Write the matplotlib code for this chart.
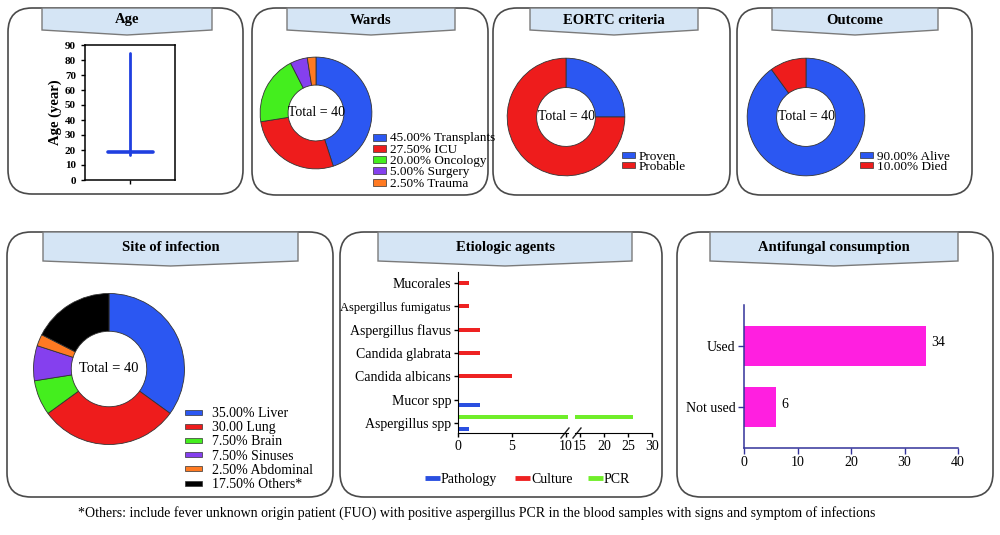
import matplotlib
matplotlib.use('Agg')
import matplotlib.pyplot as plt
import numpy as np
from matplotlib.patches import FancyBboxPatch, Polygon, Rectangle

plt.rcParams['font.family'] = ['Liberation Serif', 'DejaVu Serif']

# ---- data ----
n_total = 40

age_low, age_mid, age_high = 17, 18.5, 85

ward_counts = [18, 11, 8, 2, 1]
ward_labels = ['45.00% Transplants', '27.50% ICU', '20.00% Oncology', '5.00% Surgery', '2.50% Trauma']

eortc_counts = [10, 30]
eortc_labels = ['Proven', 'Probable']

outcome_counts = [36, 4]
outcome_labels = ['90.00% Alive', '10.00% Died']

site_counts = [14, 12, 3, 3, 1, 7]
site_labels = ['35.00% Liver', '30.00 Lung', '7.50% Brain', '7.50% Sinuses', '2.50% Abdominal', '17.50% Others*']

agents = ['Aspergillus spp', 'Mucor spp', 'Candida albicans', 'Candida glabrata',
          'Aspergillus flavus', 'Aspergillus fumigatus', 'Mucorales']
pathology = [1, 2, 0, 0, 0, 0, 0]
culture = [0, 0, 5, 2, 2, 1, 1]
pcr = [26, 0, 0, 0, 0, 0, 0]

antifungal = ['Not used', 'Used']
antifungal_n = [6, 34]

footnote = ('*Others: include fever unknown origin patient (FUO) with positive aspergillus PCR '
            'in the blood samples with signs and symptom of infections')

# ---- colours ----
BLUE = '#2b57f2'
RED = '#ee1c1c'
GREEN = '#44ee1e'
PURPLE = '#8540ee'
ORANGE = '#ff7a22'
BLACK = '#000000'
pie5 = [BLUE, RED, GREEN, PURPLE, ORANGE, BLACK]

W, H = 1000, 535
fig = plt.figure(figsize=(10, 5.35), dpi=100)
bg = fig.add_axes([0, 0, 1, 1], zorder=0)
bg.set_xlim(0, W)
bg.set_ylim(H, 0)
bg.axis('off')


def px_axes(x0, y0, x1, y1):
    return fig.add_axes([x0 / W, 1 - y1 / H, (x1 - x0) / W, (y1 - y0) / H], zorder=2)


def panel(x0, y0, x1, y1, hx0, hx1, hbot, tip, title, fs=10.5):
    bg.add_patch(FancyBboxPatch((x0, y0), x1 - x0, y1 - y0,
                                boxstyle='round,pad=0,rounding_size=24',
                                facecolor='white', edgecolor='#4a4a4a', lw=1.2))
    mid = (hx0 + hx1) / 2
    bg.add_patch(Polygon([(hx0, y0), (hx1, y0), (hx1, hbot), (mid, tip), (hx0, hbot)],
                         closed=True, facecolor='#d5e5f5', edgecolor='#7a7a7a', lw=1))
    bg.text(mid, (y0 + hbot) / 2 + 1, title, ha='center', va='center',
            fontsize=fs, fontweight='bold')


def donut(cx, cy, r, values, colors, fs=10):
    ax = px_axes(cx - r - 1, cy - r - 1, cx + r + 1, cy + r + 1)
    ax.pie(values, colors=colors, startangle=90, counterclock=False, radius=1,
           wedgeprops=dict(width=0.5, edgecolor='#333333', linewidth=0.6))
    ax.set_xlim(-1.02, 1.02)
    ax.set_ylim(-1.02, 1.02)
    ax.text(0, 0, f'Total = {n_total}', ha='center', va='center', fontsize=fs)
    return ax


def legend(x, y, dy, colors, labels, fs, hw=13, hh=7, gap=4):
    for i, (c, lab) in enumerate(zip(colors, labels)):
        yy = y + i * dy
        bg.add_patch(Rectangle((x, yy - hh / 2), hw, hh, facecolor=c,
                               edgecolor='#333333', lw=0.5))
        bg.text(x + hw + gap, yy, lab, fontsize=fs, va='center_baseline', ha='left')


# ---- top row ----
panel(8, 8, 243, 194, 42, 212, 30, 35, 'Age')
panel(252, 8, 488, 195, 287, 455, 30, 35, 'Wards')
panel(493, 8, 730, 195, 530, 698, 30, 35, 'EORTC criteria')
panel(737, 8, 972, 195, 772, 938, 30, 35, 'Outcome')

ax0 = px_axes(85, 45, 175, 180)
ax0.plot([1, 1], [age_low, age_high], color='#1f3fe0', lw=2, solid_capstyle='round')
ax0.plot([0.5, 1.5], [age_mid, age_mid], color='#1f3fe0', lw=2.6, solid_capstyle='round')
ax0.set_xlim(0, 2)
ax0.set_ylim(0, 90)
ax0.set_yticks(np.arange(0, 91, 10))
ax0.set_xticks([1])
ax0.set_xticklabels([''])
ax0.tick_params(labelsize=8, length=3, width=1)
for t in ax0.get_yticklabels():
    t.set_fontweight('bold')
ax0.set_ylabel('Age (year)', fontsize=10.5, fontweight='bold', labelpad=2)
for s in ax0.spines.values():
    s.set_linewidth(1.1)

donut(316, 113, 56, ward_counts, pie5[:5])
legend(373, 137, 11.3, pie5[:5], ward_labels, 9.5)

donut(566, 117, 59, eortc_counts, [BLUE, RED])
legend(622, 155, 10, [BLUE, RED], eortc_labels, 9.5, hh=6)

donut(806, 117, 59, outcome_counts, [BLUE, RED])
legend(860, 155, 10, [BLUE, RED], outcome_labels, 9.5, hh=6)

# ---- bottom row ----
panel(7, 232, 333, 497, 43, 298, 261, 266, 'Site of infection')
panel(340, 232, 662, 497, 378, 632, 261, 266, 'Etiologic agents')
panel(677, 232, 993, 497, 710, 958, 261, 266, 'Antifungal consumption')

donut(109, 369, 76, site_counts, pie5, fs=10.5)
legend(185, 412, 14.2, pie5, site_labels, 10, hw=17, hh=5, gap=10)

# etiologic agents, broken x axis
yp = np.arange(len(agents))
bh = 0.17
off = 0.24
ax1 = px_axes(458, 272, 568, 433)
ax2 = px_axes(575, 272, 652, 433)
for ax in (ax1, ax2):
    ax.barh(yp - off, pathology, height=bh, color='#2a4fe0')
    ax.barh(yp, culture, height=bh, color='#ee2222')
    ax.barh(yp + off, pcr, height=bh, color='#70ee2a')
    ax.set_ylim(-0.43, 6.47)
    ax.set_facecolor('none')
    ax.spines['top'].set_visible(False)
    ax.spines['right'].set_visible(False)
    ax.tick_params(labelsize=10, length=3, width=1, pad=2)
ax1.set_xlim(0, 10.2)
ax1.set_xticks([0, 5, 10])
ax1.set_yticks(yp)
ax1.set_yticklabels(agents)
ax1.get_yticklabels()[5].set_fontsize(9)
ax2.set_xlim(14, 30)
ax2.set_xticks([15, 20, 25, 30])
ax2.spines['left'].set_visible(False)
ax2.set_yticks([])
for xb in (565, 577):
    bg.plot([xb - 4, xb + 4], [438, 428], color='#222222', lw=1, zorder=5)

leg_items = [('Pathology', '#2a4fe0', 425), ('Culture', '#ee2222', 515), ('PCR', '#70ee2a', 588)]
for lab, c, lx in leg_items:
    bg.plot([lx, lx + 15], [478, 478], color=c, lw=3.5, solid_capstyle='butt')
    bg.text(lx + 16, 478, lab, fontsize=10, va='center_baseline', ha='left')

# antifungal consumption
ax3 = px_axes(744, 305, 958, 448)
ya = np.arange(len(antifungal))
ax3.barh(ya, antifungal_n, height=0.66, color='#ff1fe0')
for i, v in enumerate(antifungal_n):
    ax3.text(v + 1, i + 0.05, str(v), va='center', ha='left', fontsize=10)
ax3.set_xlim(0, 40)
ax3.set_ylim(-0.67, 1.67)
ax3.set_xticks([0, 10, 20, 30, 40])
ax3.set_yticks(ya)
ax3.set_yticklabels(antifungal)
ax3.spines['top'].set_visible(False)
ax3.spines['right'].set_visible(False)
for s in ('left', 'bottom'):
    ax3.spines[s].set_color('#33339a')
    ax3.spines[s].set_linewidth(1.1)
ax3.tick_params(labelsize=10, length=4, width=1, color='#33339a', pad=2)
ax3.set_facecolor('none')

bg.text(477, 513, footnote, ha='center', va='center', fontsize=10)

fig.savefig('out.png', dpi=100)
